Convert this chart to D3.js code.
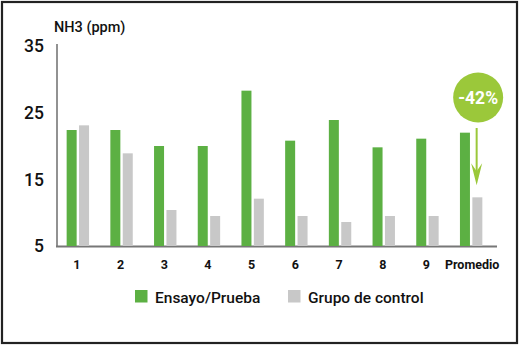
<!DOCTYPE html>
<html><head><meta charset="utf-8">
<script src="https://cdn.jsdelivr.net/npm/d3@7"></script>
<style>
html,body{margin:0;padding:0;background:#fff;}
svg{display:block;font-family:"Roboto","DejaVu Sans",sans-serif;}
</style></head>
<body>
<svg id="c" width="520" height="346"></svg>
<script>
const categories = ["1","2","3","4","5","6","7","8","9","Promedio"];
const ensayo = [22.4, 22.4, 20.0, 20.0, 28.3, 20.8, 23.9, 19.8, 21.1, 22.0];
const control = [23.1, 18.9, 10.4, 9.5, 12.1, 9.5, 8.6, 9.5, 9.5, 12.3];
const yTicks = [5, 15, 25, 35];
const seriesNames = ["Ensayo/Prueba", "Grupo de control"];
const colors = ["#5cb043", "#c8c8c8"];
const badgeText = "-42%";

const svg = d3.select("#c");
// frame
svg.append("rect").attr("x",2).attr("y",2).attr("width",515).attr("height",341)
  .attr("fill","#fff").attr("stroke","#222").attr("stroke-width",2.2);

const y = d3.scaleLinear().domain([5,35]).range([246,46]);
const x = d3.scaleBand().domain(categories).range([56,493]);
const bw = 10, gap = 2.4;

// y axis line
svg.append("line").attr("x1",57).attr("x2",57).attr("y1",y(35)-2).attr("y2",y(5))
  .attr("stroke","#777").attr("stroke-width",1.6);
// x axis line
svg.append("line").attr("x1",56).attr("x2",497).attr("y1",y(5)+0.5).attr("y2",y(5)+0.5)
  .attr("stroke","#777").attr("stroke-width",1.8);

// y tick labels
svg.selectAll(".yt").data(yTicks).enter().append("text")
  .attr("x",44).attr("y",d=>y(d)).attr("dy","0.36em").attr("text-anchor","end")
  .attr("font-size",17.5).attr("font-weight",500).attr("fill","#111").text(d=>d);

// title
svg.append("text").attr("x",54).attr("y",32).attr("font-size",14.5).attr("font-weight",500)
  .attr("fill","#111").text("NH3 (ppm)");

// bars
const g = svg.append("g");
g.selectAll(".b1").data(ensayo).enter().append("rect")
  .attr("x",(d,i)=>x(categories[i])+x.bandwidth()/2-gap/2-bw)
  .attr("y",d=>y(d)).attr("width",bw).attr("height",d=>y(5)-y(d)).attr("fill",colors[0]);
g.selectAll(".b2").data(control).enter().append("rect")
  .attr("x",(d,i)=>x(categories[i])+x.bandwidth()/2+gap/2)
  .attr("y",d=>y(d)).attr("width",bw).attr("height",d=>y(5)-y(d)).attr("fill",colors[1]);

// x labels
svg.selectAll(".xl").data(categories).enter().append("text")
  .attr("x",(d,i)=>x(d)+x.bandwidth()/2 + (d==="Promedio"?1:-1)).attr("y",269)
  .attr("text-anchor","middle").attr("font-size",d=>d==="Promedio"?12.5:12.5).attr("font-weight",700)
  .attr("fill","#111").text(d=>d);

// legend
const legX = [135, 288];
seriesNames.forEach((n,i)=>{
  svg.append("rect").attr("x",legX[i]).attr("y",290).attr("width",12.5).attr("height",12.5).attr("fill",colors[i]);
  svg.append("text").attr("x",legX[i]+20).attr("y",303).attr("font-size",15.5).attr("font-weight",500)
    .attr("fill","#111").text(n);
});

// badge
const last = categories[categories.length-1];
const cx = x(last)+x.bandwidth()/2+7;
svg.append("circle").attr("cx",cx).attr("cy",97.5).attr("r",25).attr("fill","#9bc83a");
svg.append("text").attr("x",cx).attr("y",97.5).attr("dy","0.36em").attr("text-anchor","middle")
  .attr("font-size",17.5).attr("font-weight",700).attr("fill","#fff").text(badgeText);
// arrow
const ax = cx-1.5;
const tipY = y(control[control.length-1]) - 12;
svg.append("line").attr("x1",ax).attr("x2",ax).attr("y1",128).attr("y2",tipY-8)
  .attr("stroke","#9bc83a").attr("stroke-width",2);
svg.append("path").attr("d",`M${ax-5.5},${tipY-22} L${ax},${tipY} L${ax+5.5},${tipY-22} L${ax},${tipY-14} Z`)
  .attr("fill","#9bc83a");
</script>
</body></html>
